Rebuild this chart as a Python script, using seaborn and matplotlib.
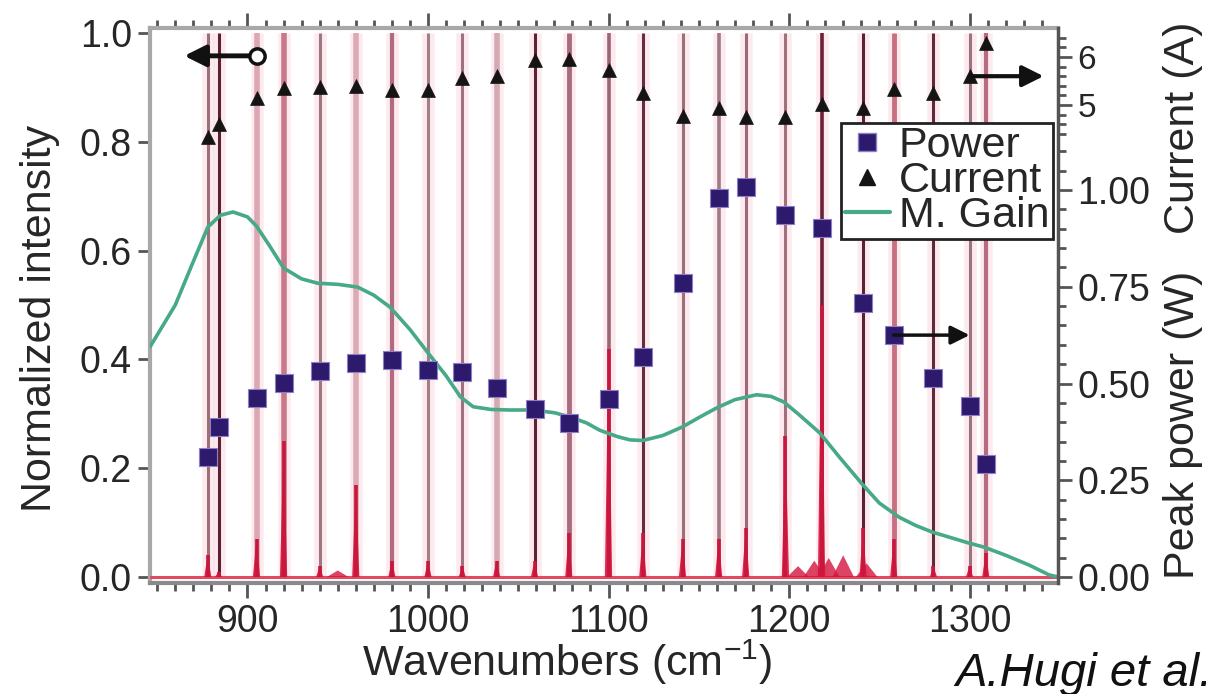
import matplotlib
matplotlib.use("Agg")
import matplotlib.pyplot as plt
import matplotlib.ticker as mt
from matplotlib.lines import Line2D
import seaborn as sns
import numpy as np

# ---------------- data ----------------
laser_wn = [878, 884, 905, 920, 940, 960, 980, 1000, 1019, 1038, 1059, 1078,
            1100, 1119, 1141, 1161, 1176, 1198, 1218, 1241, 1258, 1280, 1300, 1309]
peak_power_w = [0.310, 0.388, 0.463, 0.501, 0.532, 0.553, 0.561, 0.535, 0.530, 0.488, 0.434, 0.398,
                0.460, 0.568, 0.760, 0.979, 1.008, 0.935, 0.902, 0.708, 0.625, 0.514, 0.442, 0.292]
current_a = [4.33, 4.60, 5.15, 5.35, 5.38, 5.40, 5.31, 5.31, 5.56, 5.60, 5.94, 5.96,
             5.73, 5.25, 4.77, 4.94, 4.75, 4.75, 5.02, 4.94, 5.33, 5.25, 5.60, 6.29]
# spectrum peak heights (normalized intensity of the combined spectrum at each laser)
spec_height = [0.04, 0.01, 0.07, 0.25, 0.02, 0.17, 0.03, 0.03, 0.02, 0.03, 0.03, 0.08,
               0.42, 0.08, 0.07, 0.07, 0.09, 0.26, 0.50, 0.09, 0.07, 0.02, 0.02, 0.045]
# extra weak spectral features
extra_wn = [950, 1205, 1214, 1222, 1230, 1243]
extra_height = [0.012, 0.02, 0.03, 0.035, 0.04, 0.025]

gain_wn = [846, 860, 870, 878, 885, 892, 900, 905, 912, 920, 930, 939, 950, 961, 970, 979,
           990, 1000, 1010, 1018, 1025, 1035, 1045, 1058, 1070, 1079, 1088, 1095, 1105, 1112,
           1119, 1130, 1141, 1150, 1160, 1170, 1182, 1190, 1197, 1205, 1217, 1228, 1241, 1250,
           1261, 1270, 1279, 1290, 1299, 1308, 1320, 1333, 1344, 1349]
gain_val = [0.423, 0.50, 0.58, 0.643, 0.665, 0.671, 0.662, 0.645, 0.61, 0.568, 0.548, 0.540,
            0.538, 0.533, 0.518, 0.496, 0.455, 0.412, 0.37, 0.331, 0.313, 0.308, 0.307, 0.307,
            0.302, 0.294, 0.283, 0.270, 0.258, 0.252, 0.251, 0.26, 0.276, 0.293, 0.311, 0.326,
            0.335, 0.332, 0.322, 0.30, 0.265, 0.22, 0.169, 0.136, 0.110, 0.095, 0.083, 0.072,
            0.063, 0.055, 0.04, 0.022, 0.004, 0.0]

x_ticks = [900, 1000, 1100, 1200, 1300]
left_ticks = [0.0, 0.2, 0.4, 0.6, 0.8, 1.0]
power_ticks = [0.0, 0.25, 0.5, 0.75, 1.0]
current_ticks = [5, 6]
legend_labels = ['Power', 'Current', 'M. Gain']

# ---------------- styles ----------------
line_colors = ['#9c7078', '#5c1f33', '#dba7b2', '#c9788a', '#9e7880', '#dcaab4', '#b06c7e', '#a07f87',
               '#a07080', '#d3aab3', '#5e2135', '#a66e7c', '#9c6575', '#6a2a40', '#9c7078', '#a07a85',
               '#9a6a7a', '#a0707c', '#6a2035', '#5c2035', '#c87082', '#5e2a3a', '#9c7480', '#b86a7e']
line_widths = [2.2, 2.2, 4.0, 4.0, 2.2, 4.0, 3.0, 2.2, 2.2, 4.0, 2.2, 3.5,
               2.6, 2.2, 2.2, 2.6, 2.2, 2.2, 2.6, 2.2, 3.5, 2.2, 2.2, 3.0]

sns.set_style("ticks")
plt.rcParams['font.family'] = ['Liberation Sans', 'DejaVu Sans']
plt.rcParams['mathtext.default'] = 'regular'
TXT = '#262626'
TICKC = '#555555'
TFS = 27
LFS = 31

fig = plt.figure(figsize=(12.06, 6.94), dpi=100)
ax = fig.add_axes([150 / 1206, 1 - 583 / 694, 908 / 1206, 555 / 694])
ax.set_xlim(846, 1349)
ax.set_ylim(-0.011, 1.0092)

# halos and laser lines
ax.vlines(laser_wn, 0, 1.0, colors='#fbdce3', linewidths=9, alpha=0.6, zorder=1)
ax.vlines(laser_wn, 0, 1.0, colors=line_colors, linewidths=line_widths, zorder=2)
# combined spectrum (red)
ax.axhline(0, color='#e24a63', lw=2.2, zorder=3)
for w, h in zip(laser_wn, spec_height):
    ax.fill([w - 2.0, w, w + 2.0], [0, h, 0], color='#d4143d', alpha=0.9, lw=0, zorder=3)
    ax.vlines(w, 0, h, colors='#c8163c', linewidths=2.6, zorder=3)
for w, h in zip(extra_wn, extra_height):
    ax.fill([w - 6, w, w + 6], [0, h, 0], color='#d4143d', alpha=0.8, lw=0, zorder=3)

# modal gain
sns.lineplot(x=gain_wn, y=gain_val, ax=ax, color='#46a987', lw=2.6, zorder=4)

# axes styling (left/bottom/top)
ax.xaxis.set_major_locator(mt.FixedLocator(x_ticks))
ax.xaxis.set_minor_locator(mt.MultipleLocator(10))
ax.yaxis.set_major_locator(mt.FixedLocator(left_ticks))
ax.yaxis.set_major_formatter(mt.FormatStrFormatter('%.1f'))
ax.tick_params(axis='x', which='both', top=True, bottom=True, direction='out',
               color=TICKC, width=2, labelsize=TFS, labelcolor=TXT, pad=4)
ax.tick_params(axis='x', which='major', length=11)
ax.tick_params(axis='x', which='minor', length=6)
ax.tick_params(axis='y', which='major', left=True, right=False, length=9, width=2,
               color=TICKC, labelsize=TFS, labelcolor=TXT, pad=4)
for s in ['left', 'top']:
    ax.spines[s].set_color('#a8a8a8')
    ax.spines[s].set_linewidth(3)
ax.spines['bottom'].set_color('#8a8a8a')
ax.spines['bottom'].set_linewidth(3)
ax.spines['right'].set_visible(False)
ax.set_xlabel('')
ax.set_ylabel('')

# power axis
axp = ax.twinx()
axp.set_ylim(-0.0155, 1.4186)
axp.set_xlim(846, 1349)
sns.scatterplot(x=laser_wn, y=peak_power_w, ax=axp, marker='s', s=150, color='#2e1a6c',
                edgecolor='#8d80c8', linewidth=0.8, legend=False, zorder=5)
axp.yaxis.set_major_locator(mt.FixedLocator(power_ticks))
axp.yaxis.set_minor_locator(mt.FixedLocator(np.arange(0, 1.11, 0.05)))
axp.yaxis.set_major_formatter(mt.FormatStrFormatter('%.2f'))
axp.tick_params(axis='y', which='both', right=True, left=False, direction='out',
                color=TICKC, width=2, labelsize=TFS, labelcolor=TXT, pad=4)
axp.tick_params(axis='y', which='major', length=10)
axp.tick_params(axis='y', which='minor', length=6)
for s in ['left', 'top', 'bottom']:
    axp.spines[s].set_visible(False)
axp.spines['right'].set_color('#555555')
axp.spines['right'].set_linewidth(2.5)
axp.set_ylabel('')

# current axis
axc = ax.twinx()
axc.set_ylim(-4.958, 6.604)
axc.set_xlim(846, 1349)
sns.scatterplot(x=laser_wn, y=current_a, ax=axc, marker='^', s=100, color='#141414',
                edgecolor='#141414', linewidth=0.5, legend=False, zorder=5)
axc.yaxis.set_major_locator(mt.FixedLocator(current_ticks))
axc.yaxis.set_minor_locator(mt.FixedLocator(np.arange(4.4, 6.45, 0.2)))
axc.tick_params(axis='y', which='both', right=True, left=False, direction='out',
                color=TICKC, width=2, labelsize=TFS - 3, labelcolor=TXT, pad=4)
axc.tick_params(axis='y', which='major', length=10)
axc.tick_params(axis='y', which='minor', length=6)
for s in ['left', 'top', 'bottom', 'right']:
    axc.spines[s].set_visible(False)
axc.set_ylabel('')

# arrows indicating axes
ax.annotate('', xy=(865, 0.958), xytext=(905, 0.958),
            arrowprops=dict(arrowstyle='-|>', lw=3.5, color='#111111', mutation_scale=32,
                            shrinkA=0, shrinkB=0), zorder=6)
ax.plot([905], [0.958], marker='o', ms=11, mfc='white', mec='#111111', mew=2.5, zorder=7)
axc.annotate('', xy=(1341, 5.6), xytext=(1300, 5.6),
             arrowprops=dict(arrowstyle='-|>', lw=3, color='#111111', mutation_scale=32,
                             shrinkA=0, shrinkB=0), zorder=6)
axp.annotate('', xy=(1300, 0.625), xytext=(1258, 0.625),
             arrowprops=dict(arrowstyle='-|>', lw=2.5, color='#111111', mutation_scale=28,
                             shrinkA=0, shrinkB=0), zorder=6)

# legend
handles = [Line2D([], [], ls='', marker='s', ms=13, mfc='#2e1a6c', mec='#8d80c8'),
           Line2D([], [], ls='', marker='^', ms=11, mfc='#141414', mec='#141414'),
           Line2D([], [], color='#46a987', lw=3)]
leg = axc.legend(handles, legend_labels, loc='upper right',
                 bbox_to_anchor=(0.994, 0.829), borderaxespad=0, fontsize=LFS,
                 frameon=True, fancybox=False, framealpha=1, edgecolor='#222222',
                 handlelength=1.05, handletextpad=0.2, labelspacing=-0.12,
                 borderpad=0.08, labelcolor=TXT)
leg.get_frame().set_linewidth(2)
leg.set_zorder(20)

# texts
fig.text(567 / 1206, 1 - 662 / 694, 'Wavenumbers (cm$^{-1}$)', ha='center', va='center',
         fontsize=LFS, color=TXT)
fig.text(40 / 1206, 1 - 318 / 694, 'Normalized intensity', ha='center', va='center',
         rotation=90, fontsize=LFS, color=TXT)
fig.text(1183 / 1206, 1 - 425 / 694, 'Peak power (W)', ha='center', va='center',
         rotation=90, fontsize=LFS, color=TXT)
fig.text(1183 / 1206, 1 - 128 / 694, 'Current (A)', ha='center', va='center',
         rotation=90, fontsize=LFS, color=TXT)
fig.text(955 / 1206, 1 - 652 / 694, 'A.Hugi et al.', ha='left', va='top',
         fontsize=LFS + 3, style='italic', color='#111111')

fig.savefig('out.png', dpi=100)
